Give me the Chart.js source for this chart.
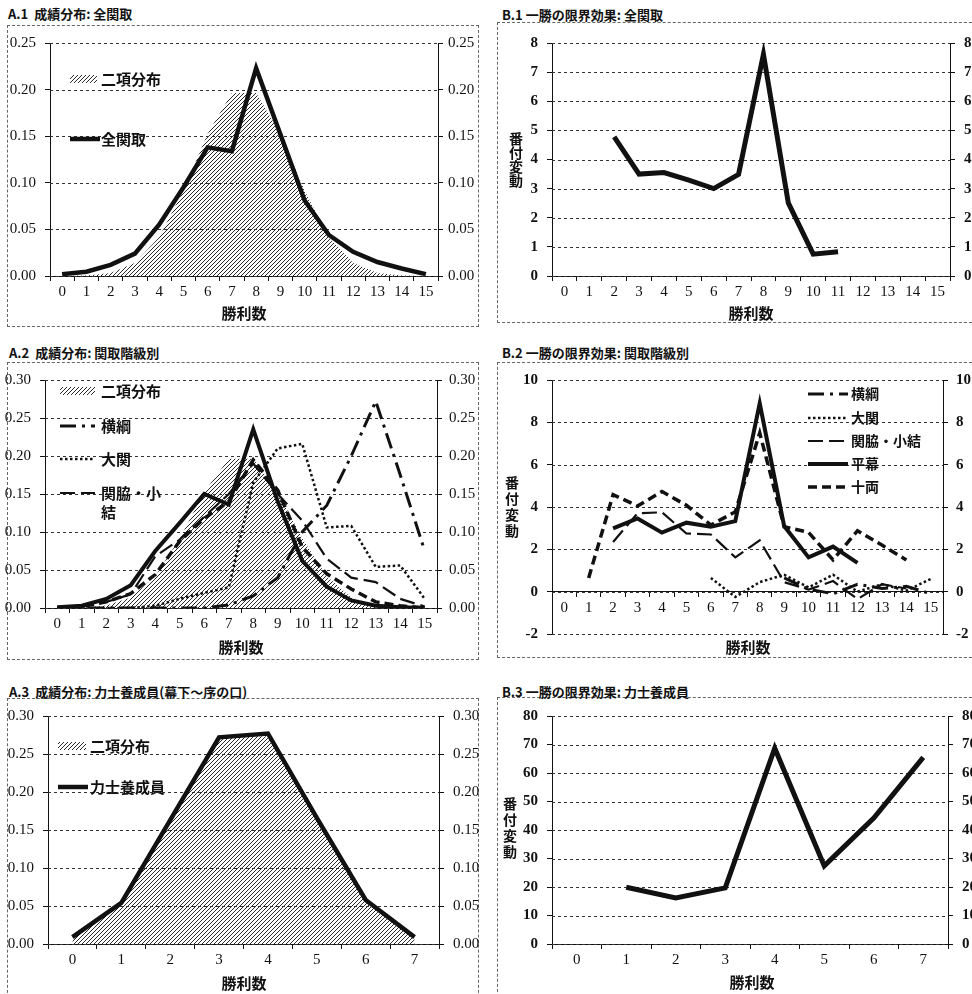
<!DOCTYPE html>
<html><head><meta charset="utf-8">
<script src="https://cdn.jsdelivr.net/npm/chart.js@4/dist/chart.umd.min.js"></script>
<style>
html,body{margin:0;padding:0;background:#fff;}
body{width:972px;height:994px;position:relative;overflow:hidden;font-family:"Noto Sans CJK JP",sans-serif;}
.frame{position:absolute;border:1px dashed #666;box-sizing:border-box;}
.ttl{position:absolute;font-weight:bold;font-size:13px;line-height:16px;white-space:nowrap;color:#111;}
canvas{position:absolute;}
</style></head><body>
<div class="frame" style="left:7px;top:25px;width:472px;height:302px"></div>
<div class="frame" style="left:497px;top:22px;width:480px;height:301px"></div>
<div class="frame" style="left:7px;top:362px;width:472px;height:298px"></div>
<div class="frame" style="left:497px;top:362px;width:480px;height:296px"></div>
<div class="frame" style="left:7px;top:698px;width:472px;height:310px"></div>
<div class="frame" style="left:497px;top:697px;width:480px;height:310px"></div>
<div class="ttl" style="left:8px;top:6px">A.1&nbsp; 成績分布: 全関取</div>
<div class="ttl" style="left:502px;top:7px">B.1 一勝の限界効果: 全関取</div>
<div class="ttl" style="left:9px;top:345px">A.2&nbsp; 成績分布: 関取階級別</div>
<div class="ttl" style="left:502px;top:345px">B.2 一勝の限界効果: 関取階級別</div>
<div class="ttl" style="left:9px;top:684px">A.3&nbsp; 成績分布: 力士養成員(幕下～序の口)</div>
<div class="ttl" style="left:502px;top:684px">B.3 一勝の限界効果: 力士養成員</div>
<script>
// ---------- data ----------
const wins15 = ['0','1','2','3','4','5','6','7','8','9','10','11','12','13','14','15'];
const wins7 = ['0','1','2','3','4','5','6','7'];
const binom15 = [0.00003,0.00046,0.0032,0.0139,0.0417,0.0916,0.1527,0.1964,0.1964,0.1527,0.0916,0.0417,0.0139,0.0032,0.00046,0.00003];
const binom7 = [0.0078,0.0547,0.1641,0.2734,0.2734,0.1641,0.0547,0.0078];
const distAll = [0.002,0.0046,0.012,0.024,0.055,0.095,0.138,0.134,0.223,0.152,0.081,0.044,0.026,0.015,0.008,0.002];
const effectAll = [null,null,4.78,3.5,3.55,3.29,3.0,3.49,7.61,2.51,0.75,0.83,null,null,null,null];
const distYokozuna = [0,0,0,0,0,0,0,0.004,0.016,0.04,0.1,0.135,0.2,0.272,0.175,0.075];
const distOzeki = [0,0,0,0,0.003,0.012,0.02,0.027,0.165,0.21,0.216,0.106,0.108,0.054,0.056,0.012];
const distSekiwake = [0,0.002,0.008,0.018,0.068,0.09,0.12,0.15,0.19,0.15,0.115,0.065,0.04,0.034,0.012,0.002];
const distMaegashira = [0.001,0.003,0.012,0.03,0.075,0.112,0.15,0.136,0.235,0.14,0.062,0.028,0.01,0.003,0.001,0];
const distJuryo = [0,0.002,0.008,0.019,0.044,0.088,0.118,0.14,0.195,0.155,0.08,0.045,0.025,0.008,0.003,0];
const effYokozuna = [null,null,null,null,null,null,null,null,null,0.65,0.12,-0.1,0.35,0.15,0.25,-0.1];
const effOzeki = [null,null,null,null,null,null,0.65,-0.25,0.45,0.8,0.2,0.8,0.0,0.35,0.05,0.6];
const effSekiwake = [null,null,2.35,3.7,3.75,2.75,2.7,1.62,2.42,0.45,0.1,0.5,-0.35,0.35,0.15,null];
const effMaegashira = [null,null,2.99,3.46,2.79,3.26,3.07,3.33,8.9,3.1,1.62,2.13,1.36,null,null,null];
const effJuryo = [null,0.65,4.58,4.05,4.73,4.08,3.15,3.77,7.5,3.07,2.8,1.5,2.88,2.2,1.5,null];
const distTrainee = [0.009,0.054,0.163,0.272,0.277,0.166,0.058,0.009];
const effTrainee = [null,19.9,16.2,19.7,68.7,27.4,44.2,65.5];

// ---------- helpers ----------
const hatch = (() => {
  const c = document.createElement('canvas'); c.width = 4; c.height = 4;
  const g = c.getContext('2d');
  g.strokeStyle = '#2a2a2a'; g.lineWidth = 1;
  g.beginPath(); g.moveTo(0,4); g.lineTo(4,0); g.moveTo(-1,1); g.lineTo(1,-1); g.moveTo(3,5); g.lineTo(5,3); g.stroke();
  return g.createPattern(c, 'repeat');
})();
const CJK = '"Noto Sans CJK JP", sans-serif';
const SERIF = '"Liberation Serif", "DejaVu Serif", serif';

// dotted horizontal gridlines at each tick of the left value axis
const hgrid = {
  id: 'hgrid',
  beforeDatasetsDraw(chart) {
    const ctx = chart.ctx, y = chart.scales.y, a = chart.chartArea;
    ctx.save();
    ctx.strokeStyle = '#333'; ctx.lineWidth = 1; ctx.setLineDash([3, 3]);
    y.ticks.forEach(t => {
      const py = Math.round(y.getPixelForValue(t.value)) + 0.5;
      ctx.beginPath(); ctx.moveTo(a.left, py); ctx.lineTo(a.right, py); ctx.stroke();
    });
    ctx.restore();
  }
};

const deco = {
  id: 'deco',
  afterDraw(chart, args, o) {
    const ctx = chart.ctx, ox = o.ox, oy = o.oy;
    ctx.save();
    (o.texts || []).forEach(t => {
      ctx.font = t.font; ctx.fillStyle = '#111';
      ctx.textAlign = t.align || 'center'; ctx.textBaseline = 'middle';
      ctx.fillText(t.text, t.x - ox, t.y - oy);
    });
    const lg = o.legend;
    if (lg) lg.items.forEach(it => {
      const ds = chart.data.datasets[it.ds];
      const y = it.y - oy, x0 = (it.x0 ?? lg.x0) - ox, x1 = (it.x1 ?? lg.x1) - ox;
      if (ds.fill) {
        ctx.fillStyle = ds.backgroundColor; ctx.fillRect(x0, y - 4, x1 - x0, 8);
      } else {
        ctx.strokeStyle = ds.borderColor; ctx.lineWidth = ds.borderWidth;
        ctx.setLineDash(ds.borderDash || []); ctx.lineCap = 'butt';
        ctx.beginPath(); ctx.moveTo(x0, y); ctx.lineTo(x1, y); ctx.stroke(); ctx.setLineDash([]);
      }
      ctx.font = lg.font; ctx.fillStyle = '#111'; ctx.textAlign = 'left'; ctx.textBaseline = 'middle';
      const lines = Array.isArray(it.text) ? it.text : [it.text];
      lines.forEach((l, i) => ctx.fillText(l, (it.tx ?? lg.tx) - ox, y + i * (lg.lh || 19)));
    });
    ctx.restore();
  }
};

function area(label, data) {
  return { label, data, fill: 'origin', backgroundColor: hatch, borderColor: 'rgba(0,0,0,0)', borderWidth: 0, pointRadius: 0, order: 1 };
}
function line(label, data, width, dash) {
  return { label, data, fill: false, borderColor: '#111', borderWidth: width, borderDash: dash || [], pointRadius: 0, tension: 0, borderJoinStyle: 'miter', spanGaps: false, order: 0 };
}

function panel(o) {
  const cv = document.createElement('canvas');
  cv.style.left = o.cx + 'px'; cv.style.top = o.cy + 'px';
  cv.width = o.cw; cv.height = o.ch;
  cv.style.width = o.cw + 'px'; cv.style.height = o.ch + 'px';
  document.body.appendChild(cv);
  const yfont = { family: SERIF, size: 15, weight: o.yBold ? 'bold' : 'normal' };
  const yticks = { stepSize: o.step, font: yfont, color: '#111', callback: o.fmt };
  new Chart(cv, {
    type: 'line',
    data: { labels: o.labels, datasets: o.datasets },
    plugins: [hgrid, deco],
    options: {
      responsive: false, animation: false, devicePixelRatio: 1,
      layout: { padding: { top: o.T - o.cy, bottom: o.xAtZero ? (o.cy + o.ch - o.B) : 0, left: 0, right: 0 } },
      plugins: {
        legend: { display: false }, tooltip: { enabled: false },
        deco: { ox: o.cx, oy: o.cy, texts: o.texts, legend: o.legend }
      },
      scales: {
        x: {
          type: 'category', offset: true,
          position: o.xAtZero ? { y: 0 } : 'bottom',
          grid: { offset: true, drawOnChartArea: false, color: '#111', tickLength: 5, lineWidth: 1 },
          border: { color: '#111', width: 1 },
          ticks: { font: { family: SERIF, size: 15 }, color: '#111', padding: 2, maxRotation: 0, autoSkip: false },
          afterFit: s => { if (!o.xAtZero) s.height = o.cy + o.ch - o.B; }
        },
        y: {
          position: 'left', min: o.min, max: o.max,
          ticks: Object.assign({ padding: 9 }, yticks),
          grid: { drawOnChartArea: false, color: '#111', tickLength: 5, lineWidth: 1 },
          border: { color: '#111', width: 1 },
          afterFit: s => { s.width = o.L - o.cx; }
        },
        y2: {
          position: 'right', min: o.min, max: o.max,
          ticks: Object.assign({ padding: o.rpad }, yticks),
          grid: { drawOnChartArea: false, color: '#111', tickLength: 5 },
          border: { color: '#111', width: 1 },
          afterFit: s => { s.width = o.cx + o.cw - o.R; }
        }
      }
    }
  });
}

const f2 = v => Number(v).toFixed(2);
const f0 = v => String(Math.round(v));
const axisFont = 'bold 15px ' + CJK;
const vFont = 'bold 14px ' + CJK;
function vtitle(x, ys) { return ['番','付','変','動'].map((c, i) => ({ text: c, x, y: ys[i], font: vFont })); }

// A.1
panel({ cx: 0, cy: 25, cw: 486, ch: 305, L: 50, R: 438, T: 42, B: 276,
  labels: wins15, min: 0, max: 0.25, step: 0.05, fmt: f2, rpad: 5,
  datasets: [area('二項分布', binom15), line('全関取', distAll, 4.5)],
  texts: [{ text: '勝利数', x: 244, y: 313, font: axisFont }],
  legend: { x0: 70, x1: 98, tx: 101, font: 'bold 15px ' + CJK,
    items: [{ ds: 0, text: '二項分布', y: 79, x1: 97 }, { ds: 1, text: '全関取', y: 139, x1: 100 }] } });

// B.1
panel({ cx: 490, cy: 25, cw: 482, ch: 305, L: 552, R: 950, T: 43, B: 276,
  labels: wins15, min: 0, max: 8, step: 1, fmt: f0, rpad: 9, yBold: true,
  datasets: [line('全関取', effectAll, 5)],
  texts: [{ text: '勝利数', x: 751, y: 313, font: axisFont }].concat(vtitle(516, [139, 153, 167, 181])) });

// A.2
panel({ cx: 0, cy: 362, cw: 486, ch: 298, L: 45, R: 437, T: 377, B: 608,
  labels: wins15, min: 0, max: 0.30, step: 0.05, fmt: f2, rpad: 7,
  datasets: [area('二項分布', binom15), line('横綱', distYokozuna, 3, [16, 6, 3, 6]), line('大関', distOzeki, 2.5, [2.5, 2.5]),
    line('関脇・小結', distSekiwake, 2.2, [15, 6]), line('平幕', distMaegashira, 4), line('十両', distJuryo, 3.5, [9, 5])],
  texts: [{ text: '勝利数', x: 241, y: 647, font: axisFont }],
  legend: { x0: 60, x1: 95, tx: 101, font: 'bold 15px ' + CJK, lh: 19,
    items: [{ ds: 0, text: '二項分布', y: 391 }, { ds: 1, text: '横綱', y: 426 }, { ds: 2, text: '大関', y: 459 },
      { ds: 3, text: ['関脇・小', '結'], y: 493 }] } });

// B.2
panel({ cx: 490, cy: 362, cw: 482, ch: 298, L: 552, R: 943, T: 377, B: 634, xAtZero: true,
  labels: wins15, min: -2, max: 10, step: 2, fmt: f0, rpad: 8, yBold: true,
  datasets: [line('横綱', effYokozuna, 3, [16, 6, 3, 6]), line('大関', effOzeki, 2.5, [2.5, 2.5]),
    line('関脇・小結', effSekiwake, 2.2, [15, 6]), line('平幕', effMaegashira, 4), line('十両', effJuryo, 3.5, [9, 5])],
  texts: [{ text: '勝利数', x: 748, y: 647, font: axisFont }].concat(vtitle(512, [483, 499, 515, 531])),
  legend: { x0: 808, x1: 848, tx: 851, font: 'bold 14px ' + CJK,
    items: [{ ds: 0, text: '横綱', y: 394 }, { ds: 1, text: '大関', y: 418 }, { ds: 2, text: '関脇・小結', y: 441 },
      { ds: 3, text: '平幕', y: 464 }, { ds: 4, text: '十両', y: 487 }] } });

// A.3
panel({ cx: 0, cy: 698, cw: 486, ch: 296, L: 48, R: 439, T: 713, B: 944,
  labels: wins7, min: 0, max: 0.30, step: 0.05, fmt: f2, rpad: 9,
  datasets: [area('二項分布', binom7), line('力士養成員', distTrainee, 4.5)],
  texts: [{ text: '勝利数', x: 244, y: 983, font: axisFont }],
  legend: { x0: 58, x1: 86, tx: 90, font: 'bold 15px ' + CJK,
    items: [{ ds: 0, text: '二項分布', y: 746 }, { ds: 1, text: '力士養成員', y: 787, x1: 88 }] } });

// B.3
panel({ cx: 490, cy: 698, cw: 482, ch: 296, L: 552, R: 948, T: 713, B: 944,
  labels: wins7, min: 0, max: 80, step: 10, fmt: f0, rpad: 9, yBold: true,
  datasets: [line('力士養成員', effTrainee, 5)],
  texts: [{ text: '勝利数', x: 752, y: 982, font: axisFont }].concat(vtitle(510, [804, 820, 836, 852])) });
</script>
</body></html>
